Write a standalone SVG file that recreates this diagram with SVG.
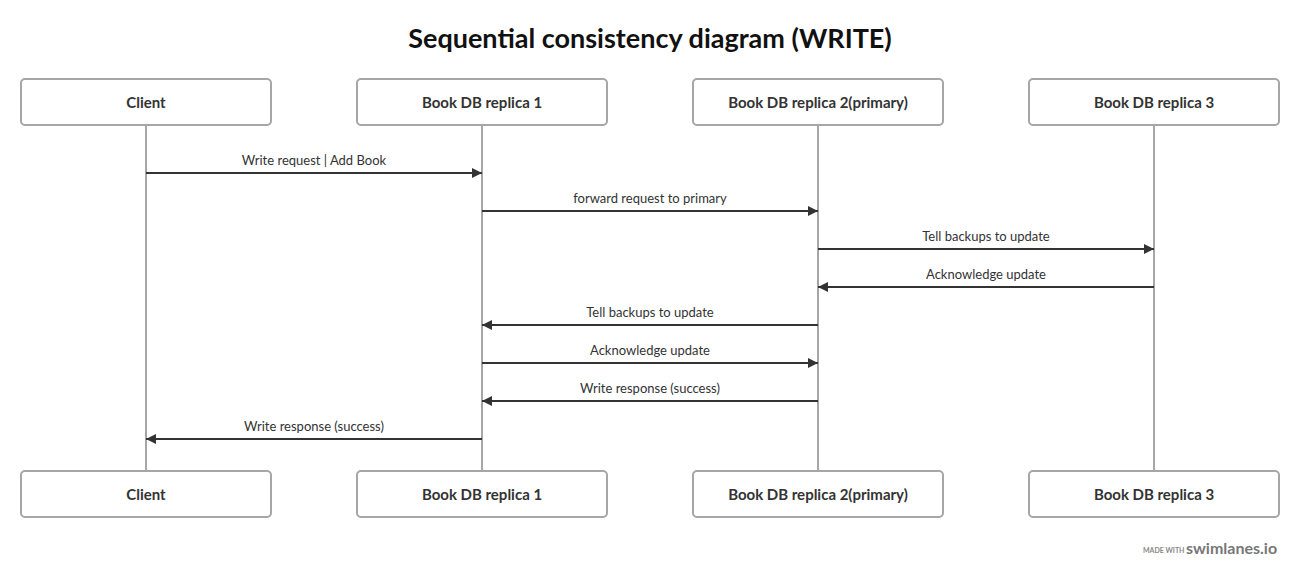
<svg xmlns="http://www.w3.org/2000/svg" width="1300" height="578" viewBox="0 0 1300 578">
<style>
.bg{fill:#fff}
.box rect{fill:#fff;stroke:#a6a6a6;stroke-width:2}
.box text{font-family:Lato,"Open Sans",sans-serif;font-weight:bold;font-size:15px;fill:#333;text-anchor:middle}
.life{stroke:#a6a6a6;stroke-width:2}
.msg line{stroke:#333;stroke-width:2}
.msg text{font-family:Lato,"Open Sans",sans-serif;font-size:13px;fill:#333;text-anchor:middle}
.title{font-family:Lato,"Open Sans",sans-serif;font-weight:bold;font-size:27px;fill:#111;text-anchor:middle}
.made{font-family:Lato,sans-serif;font-weight:bold;font-size:7px;fill:#888}
.brand{font-family:Lato,sans-serif;font-weight:bold;font-size:16px;fill:#777}
</style>
<defs>
<marker id="ah" viewBox="0 0 10 10" refX="10" refY="5" markerWidth="10" markerHeight="10" markerUnits="userSpaceOnUse" orient="auto">
<path d="M0,0 L10,5 L0,10 z" fill="#333"/>
</marker>
</defs>
<rect class="bg" x="0" y="0" width="1300" height="578"/>
<text class="title" x="650" y="48">Sequential consistency diagram (WRITE)</text>
<g id="lifelines">
<line class="life" x1="146" y1="125" x2="146" y2="471"/>
<line class="life" x1="482" y1="125" x2="482" y2="471"/>
<line class="life" x1="818" y1="125" x2="818" y2="471"/>
<line class="life" x1="1154" y1="125" x2="1154" y2="471"/>
</g>
<g id="client-top" class="box"><rect x="21" y="79" width="250" height="46" rx="4"/><text x="146" y="107.5">Client</text></g>
<g id="r1-top" class="box"><rect x="357" y="79" width="250" height="46" rx="4"/><text x="482" y="107.5">Book DB replica 1</text></g>
<g id="r2-top" class="box"><rect x="693" y="79" width="250" height="46" rx="4"/><text x="818" y="107.5">Book DB replica 2(primary)</text></g>
<g id="r3-top" class="box"><rect x="1029" y="79" width="250" height="46" rx="4"/><text x="1154" y="107.5">Book DB replica 3</text></g>
<g id="client-bottom" class="box"><rect x="21" y="471" width="250" height="46" rx="4"/><text x="146" y="499.5">Client</text></g>
<g id="r1-bottom" class="box"><rect x="357" y="471" width="250" height="46" rx="4"/><text x="482" y="499.5">Book DB replica 1</text></g>
<g id="r2-bottom" class="box"><rect x="693" y="471" width="250" height="46" rx="4"/><text x="818" y="499.5">Book DB replica 2(primary)</text></g>
<g id="r3-bottom" class="box"><rect x="1029" y="471" width="250" height="46" rx="4"/><text x="1154" y="499.5">Book DB replica 3</text></g>
<g id="connectors" class="msg">
<line x1="146" y1="173" x2="482" y2="173" marker-end="url(#ah)"/><text x="314" y="165">Write request | Add Book</text>
<line x1="482" y1="211" x2="818" y2="211" marker-end="url(#ah)"/><text x="650" y="203">forward request to primary</text>
<line x1="818" y1="249" x2="1154" y2="249" marker-end="url(#ah)"/><text x="986" y="241">Tell backups to update</text>
<line x1="1154" y1="287" x2="818" y2="287" marker-end="url(#ah)"/><text x="986" y="279">Acknowledge update</text>
<line x1="818" y1="325" x2="482" y2="325" marker-end="url(#ah)"/><text x="650" y="317">Tell backups to update</text>
<line x1="482" y1="363" x2="818" y2="363" marker-end="url(#ah)"/><text x="650" y="355">Acknowledge update</text>
<line x1="818" y1="401" x2="482" y2="401" marker-end="url(#ah)"/><text x="650" y="393">Write response (success)</text>
<line x1="482" y1="439" x2="146" y2="439" marker-end="url(#ah)"/><text x="314" y="431">Write response (success)</text>
</g>
<text class="made" x="1143" y="553">MADE WITH</text>
<text class="brand" x="1186" y="554">swimlanes.io</text>
</svg>
